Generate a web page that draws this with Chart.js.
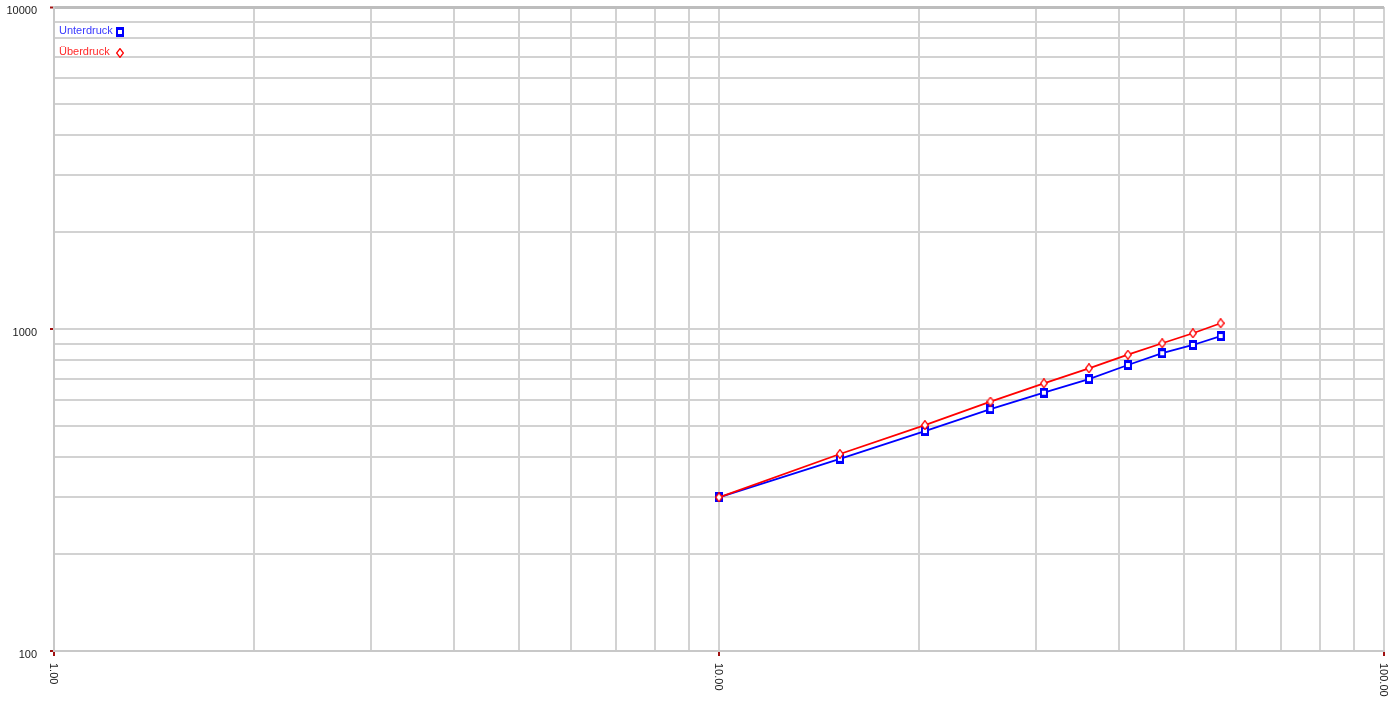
<!DOCTYPE html>
<html>
<head>
<meta charset="utf-8">
<title>Unterdruck / Überdruck</title>
<script src="https://cdn.jsdelivr.net/npm/chart.js@4.4.1/dist/chart.umd.min.js"></script>
<style>
  body { margin: 0; background: #fff; }
  #chart { display: block; }
</style>
</head>
<body>
<canvas id="chart" width="1395" height="711"></canvas>
<script>
// values
var xValues = [10, 15.2, 20.4, 25.6, 30.8, 36, 41.2, 46.4, 51.6, 56.8];
var unterdruck = [300, 395, 482, 564, 634, 699, 773, 841, 892, 951];
var ueberdruck = [300, 409, 503, 595, 678, 755, 832, 903, 970, 1042];
var seriesLabels = ['Unterdruck', 'Überdruck'];

var xTicks = [1, 2, 3, 4, 5, 6, 7, 8, 9, 10, 20, 30, 40, 50, 60, 70, 80, 90, 100];
var yTicks = [100, 200, 300, 400, 500, 600, 700, 800, 900,
              1000, 2000, 3000, 4000, 5000, 6000, 7000, 8000, 9000, 10000];
var xTickLabels = { 1: '1.00', 10: '10.00', 100: '100.00' };
var yTickLabels = { 100: '100', 1000: '1000', 10000: '10000' };

var FONT = '"Liberation Sans", Arial, sans-serif';

function points(ys) {
  var out = [];
  for (var i = 0; i < xValues.length; i++) out.push({ x: xValues[i], y: ys[i] });
  return out;
}

// marker images
function squareMarker() {
  var c = document.createElement('canvas');
  c.width = 8; c.height = 10;
  var g = c.getContext('2d');
  g.fillStyle = '#0000ff';
  g.fillRect(0, 0, 8, 10);
  g.fillStyle = '#ffffff';
  g.fillRect(2, 3, 4, 4);
  return c;
}
function diamondMarker() {
  var c = document.createElement('canvas');
  c.width = 8; c.height = 10;
  var g = c.getContext('2d');
  g.beginPath();
  g.moveTo(4, 0.6); g.lineTo(7.4, 5); g.lineTo(4, 9.4); g.lineTo(0.6, 5);
  g.closePath();
  g.fillStyle = '#ffffff';
  g.fill();
  g.strokeStyle = '#ff0000';
  g.lineWidth = 1.3;
  g.stroke();
  return c;
}
var sq = squareMarker();
var dia = diamondMarker();

function majorTick(v, labels) { return labels.hasOwnProperty(v); }

// x labels (rotated clockwise) + legend inside the plot
var extras = {
  id: 'extras',
  afterDraw: function(chart) {
    var ctx = chart.ctx;
    var xs = chart.scales.x;
    var area = chart.chartArea;
    ctx.save();
    ctx.font = '11px ' + FONT;
    ctx.fillStyle = '#1a1a1a';
    ctx.textAlign = 'left';
    ctx.textBaseline = 'middle';
    for (var k in xTickLabels) {
      var px = xs.getPixelForValue(Number(k));
      ctx.save();
      ctx.translate(px - 1, area.bottom + 12);
      ctx.rotate(Math.PI / 2);
      ctx.fillText(xTickLabels[k], 0, 0);
      ctx.restore();
    }

    // legend
    var items = [
      { text: seriesLabels[0], color: '#3a3aff', img: sq, y: 31 },
      { text: seriesLabels[1], color: '#ff2a2a', img: dia, y: 52 }
    ];
    items.forEach(function(it) {
      ctx.fillStyle = it.color;
      ctx.fillText(it.text, area.left + 5, it.y);
      ctx.drawImage(it.img, 120 - Math.floor(it.img.width / 2), it.y + 1 - Math.floor(it.img.height / 2));
    });
    ctx.restore();
  }
};

var chart = new Chart(document.getElementById('chart').getContext('2d'), {
  type: 'line',
  data: {
    datasets: [{
      label: seriesLabels[0],
      data: points(unterdruck),
      borderColor: '#0000ff',
      borderWidth: 1.8,
      pointStyle: sq,
      order: 2
    }, {
      label: seriesLabels[1],
      data: points(ueberdruck),
      borderColor: '#ff0000',
      borderWidth: 1.8,
      pointStyle: dia,
      order: 1
    }]
  },
  options: {
    responsive: false,
    animation: false,
    layout: { padding: { top: 7, right: 11, left: 0, bottom: 0 } },
    plugins: {
      legend: { display: false },
      tooltip: { enabled: false }
    },
    elements: { line: { tension: 0, fill: false } },
    scales: {
      x: {
        type: 'logarithmic',
        min: 1,
        max: 100,
        afterBuildTicks: function(scale) {
          scale.ticks = xTicks.map(function(v) { return { value: v }; });
        },
        afterFit: function(scale) {
          scale.height = 60;
          scale.paddingLeft = 0; scale.paddingRight = 0;
        },
        ticks: { display: false, autoSkip: false },
        grid: {
          color: '#d2d2d2',
          lineWidth: 2,
          tickLength: 5,
          tickColor: function(c) { return majorTick(c.tick.value, xTickLabels) ? '#a01010' : 'rgba(0,0,0,0)'; },
          tickWidth: 2
        },
        border: { color: '#c8c8c8', width: 2 }
      },
      y: {
        type: 'logarithmic',
        min: 100,
        max: 10000,
        afterBuildTicks: function(scale) {
          scale.ticks = yTicks.map(function(v) { return { value: v }; });
        },
        afterFit: function(scale) {
          scale.width = 54;
          scale.paddingTop = 0; scale.paddingBottom = 0;
        },
        ticks: {
          autoSkip: false,
          padding: 13,
          labelOffset: 4,
          color: '#1a1a1a',
          font: { family: FONT, size: 11 },
          callback: function(v) { return yTickLabels[v] || ''; }
        },
        grid: {
          color: function(c) { return c.tick && c.tick.value === 10000 ? '#bdbdbd' : '#d2d2d2'; },
          lineWidth: function(c) { return c.tick && c.tick.value === 10000 ? 3 : 2; },
          tickLength: 4,
          tickColor: function(c) { return majorTick(c.tick.value, yTickLabels) ? '#a01010' : 'rgba(0,0,0,0)'; },
          tickWidth: 2
        },
        border: { color: '#c8c8c8', width: 2 }
      }
    }
  },
  plugins: [extras]
});
</script>
</body>
</html>
